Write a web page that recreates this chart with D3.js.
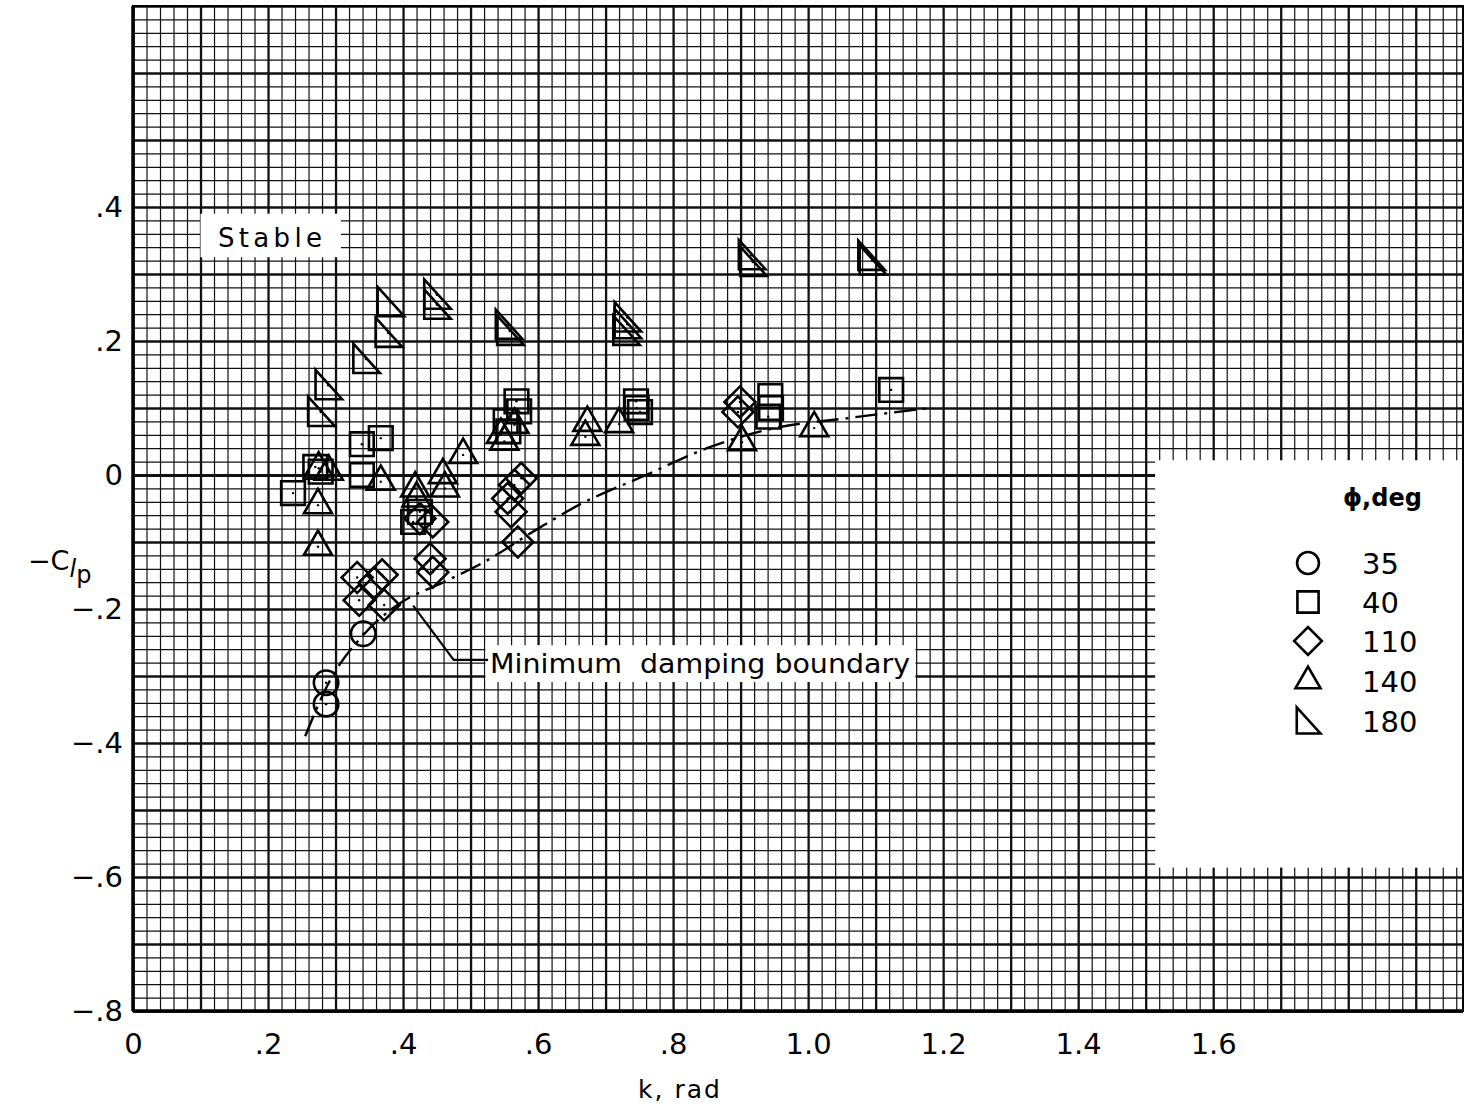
<!DOCTYPE html>
<html lang="en">
<head>
<meta charset="UTF-8" />
<title>Roll damping against reduced frequency</title>
<script src="https://d3js.org/d3.v7.min.js"></script>
<style>
  body { margin: 0; background: #fff; }
  svg text { font-family: "DejaVu Sans", sans-serif; fill: #000; white-space: pre; }
  .grid path, .ticks path { display: none; }
  .grid line { stroke: #111; }
  .mark { fill: none; stroke: #000; stroke-width: 2.6; }
</style>
</head>
<body>
<svg width="1466" height="1113"></svg>
<script>
// data: [k, -Clp]
const phi35 = [[0.341, -0.237], [0.286, -0.31], [0.286, -0.342]];
const phi40 = [[0.237, -0.027], [0.27, 0.012], [0.278, 0.005], [0.339, 0.046], [0.367, 0.055],
  [0.339, 0.0], [0.415, -0.07], [0.425, -0.055], [0.552, 0.08], [0.568, 0.11], [0.572, 0.095],
  [0.556, 0.065], [0.746, 0.10], [0.751, 0.094], [0.745, 0.11], [0.944, 0.118], [0.941, 0.087],
  [0.945, 0.10], [1.123, 0.127]];
const phi110 = [[0.899, 0.109], [0.896, 0.094], [0.575, -0.005], [0.565, -0.015], [0.555, -0.035],
  [0.56, -0.055], [0.57, -0.10], [0.444, -0.07], [0.425, -0.065], [0.44, -0.125], [0.444, -0.145],
  [0.332, -0.153], [0.369, -0.149], [0.357, -0.161], [0.335, -0.187], [0.372, -0.194]];
const phi140 = [[1.009, 0.07], [0.673, 0.078], [0.67, 0.057], [0.72, 0.076], [0.902, 0.049],
  [0.545, 0.06], [0.55, 0.05], [0.565, 0.075], [0.489, 0.03], [0.459, 0.0], [0.462, -0.02],
  [0.418, -0.02], [0.42, -0.035], [0.274, -0.045], [0.274, -0.107], [0.367, -0.01],
  [0.275, 0.01], [0.29, 0.005]];
const phi180 = [[0.381, 0.258], [0.378, 0.212], [0.345, 0.173], [0.289, 0.134], [0.278, 0.094],
  [0.45, 0.269], [0.45, 0.254], [0.556, 0.224], [0.558, 0.215], [0.732, 0.235], [0.732, 0.225],
  [0.73, 0.215], [0.916, 0.328], [0.918, 0.318], [1.093, 0.327], [1.095, 0.32]];

const boundary = [[0.255, -0.39], [0.29, -0.31], [0.34, -0.24], [0.39, -0.195], [0.46, -0.16],
  [0.52, -0.13], [0.60, -0.08], [0.66, -0.045], [0.76, 0.0], [0.85, 0.04], [0.95, 0.07],
  [1.06, 0.085], [1.18, 0.10]];
const leader = [[0.415, -0.195], [0.475, -0.276], [0.526, -0.276]];

const xTicks = [0, 0.2, 0.4, 0.6, 0.8, 1.0, 1.2, 1.4, 1.6];
const xTickLabels = ["0", ".2", ".4", ".6", ".8", "1.0", "1.2", "1.4", "1.6"];
const yTicks = [0.4, 0.2, 0, -0.2, -0.4, -0.6, -0.8];
const yTickLabels = [".4", ".2", "0", "−.2", "−.4", "−.6", "−.8"];
const legendLabels = ["35", "40", "110", "140", "180"];

const svg = d3.select("svg");
const x = d3.scaleLinear().domain([0, 1.97]).range([133, 1463]);
const y = d3.scaleLinear().domain([-0.8, 0.7]).range([1011, 6]);
const H = y(-0.8) - y(0.7), W = x(1.97) - x(0);

svg.append("rect").attr("width", 1466).attr("height", 1113).attr("fill", "#fff");

// graph paper
const minorX = d3.range(0, 99).map(i => +(i * 0.02).toFixed(2));
const minorY = d3.range(-40, 36).map(i => +(i * 0.02).toFixed(2));
const gx = svg.append("g").attr("class", "grid").attr("transform", `translate(0,${y(-0.8)})`)
  .call(d3.axisBottom(x).tickValues(minorX).tickSize(-H).tickFormat(""));
gx.selectAll("line").attr("stroke-width", (d, i) => i % 5 === 0 ? 2.3 : 1.2);
const gy = svg.append("g").attr("class", "grid").attr("transform", `translate(${x(0)},0)`)
  .call(d3.axisLeft(y).tickValues(minorY).tickSize(-W).tickFormat(""));
gy.selectAll("line").attr("stroke-width", (d, i) => i % 5 === 0 ? 2.3 : 1.2);
gy.selectAll("line").filter(d => d === 0).attr("stroke-width", 3).attr("stroke", "#000");

// white label patches
const patches = [[0.1, 0.39, 0.308, 0.325], [0.522, -0.254, 1.159, -0.309], [1.514, 0.022, 1.97, -0.586]];
svg.selectAll(".patch").data(patches).join("rect")
  .attr("x", d => x(d[0])).attr("y", d => y(d[1]))
  .attr("width", d => x(d[2]) - x(d[0])).attr("height", d => y(d[3]) - y(d[1]))
  .attr("fill", "#fff");

// frame
svg.append("rect").attr("x", x(0)).attr("y", y(0.7)).attr("width", W).attr("height", H)
  .attr("fill", "none").attr("stroke", "#000").attr("stroke-width", 2);
svg.append("line").attr("x1", x(0)).attr("x2", x(0)).attr("y1", y(0.7)).attr("y2", y(-0.8))
  .attr("stroke", "#000").attr("stroke-width", 3.5);
svg.append("line").attr("x1", x(0)).attr("x2", x(1.97)).attr("y1", y(-0.8)).attr("y2", y(-0.8))
  .attr("stroke", "#000").attr("stroke-width", 3.5);

// minimum damping boundary
svg.append("path").datum(boundary)
  .attr("d", d3.line().x(d => x(d[0])).y(d => y(d[1])).curve(d3.curveMonotoneX))
  .attr("fill", "none").attr("stroke", "#000").attr("stroke-width", 2.4)
  .attr("stroke-dasharray", "22,7,3,7");
svg.append("path").datum(leader)
  .attr("d", d3.line().x(d => x(d[0])).y(d => y(d[1])))
  .attr("fill", "none").attr("stroke", "#000").attr("stroke-width", 2.2);

// symbols
const rightTri = {
  draw(ctx, size) {
    const s = Math.sqrt(size);
    ctx.moveTo(-s * 0.45, -s * 0.55);
    ctx.lineTo(-s * 0.45, s * 0.5);
    ctx.lineTo(s * 0.5, s * 0.5);
    ctx.closePath();
  }
};
const series = [
  { data: phi35, type: d3.symbolCircle, size: 470, rot: 0 },
  { data: phi40, type: d3.symbolSquare, size: 560, rot: 0 },
  { data: phi110, type: d3.symbolSquare, size: 480, rot: 45 },
  { data: phi140, type: d3.symbolTriangle, size: 340, rot: 0 },
  { data: phi180, type: rightTri, size: 780, rot: 0 }
];
series.forEach(s => {
  const sym = d3.symbol().type(s.type).size(s.size);
  const g = svg.append("g");
  g.selectAll("path").data(s.data).join("path")
    .attr("class", "mark")
    .attr("d", sym)
    .attr("transform", d => `translate(${x(d[0])},${y(d[1])}) rotate(${s.rot})`);
  // small centre dots
  g.selectAll("circle").data(s.data).join("circle")
    .attr("cx", d => x(d[0])).attr("cy", d => y(d[1])).attr("r", 1.2).attr("fill", "#000");
});

// tick labels
const ax = svg.append("g").attr("class", "ticks").attr("transform", `translate(0,${y(-0.8)})`)
  .call(d3.axisBottom(x).tickValues(xTicks).tickSize(0).tickPadding(22)
    .tickFormat((d, i) => xTickLabels[i]));
ax.selectAll("text").attr("font-size", 29).attr("font-family", "DejaVu Sans");
const ay = svg.append("g").attr("class", "ticks").attr("transform", `translate(${x(0)},0)`)
  .call(d3.axisLeft(y).tickValues(yTicks).tickSize(0).tickPadding(10)
    .tickFormat((d, i) => yTickLabels[i]));
ay.selectAll("text").attr("font-size", 29).attr("font-family", "DejaVu Sans");

svg.append("text").attr("x", 680).attr("y", 1098).attr("text-anchor", "middle")
  .attr("font-size", 25).attr("letter-spacing", 2).text("k, rad");

const yl = svg.append("text").attr("x", 28).attr("y", 570).attr("font-size", 27);
yl.append("tspan").text("−C");
yl.append("tspan").attr("dy", 7).attr("font-size", 24).attr("font-style", "italic").text("l");
yl.append("tspan").attr("dy", 6).attr("font-size", 24).text("p");

svg.append("text").attr("x", 218).attr("y", 247).attr("font-size", 26)
  .attr("textLength", 104).attr("lengthAdjust", "spacing").text("Stable");
svg.append("text").attr("x", 490).attr("y", 673).attr("font-size", 26)
  .attr("textLength", 420).attr("lengthAdjust", "spacingAndGlyphs").text("Minimum  damping boundary");

// legend
svg.append("text").attr("x", 1343).attr("y", 506).attr("font-size", 24).attr("font-weight", "bold")
  .text("ϕ,deg");
const legRows = [563, 602, 641, 681, 721];
series.forEach((s, i) => {
  const sym = d3.symbol().type(s.type).size(s.size * 0.8);
  svg.append("path").attr("class", "mark")
    .attr("d", sym)
    .attr("transform", `translate(1308,${legRows[i]}) rotate(${s.rot})`);
  svg.append("text").attr("x", 1362).attr("y", legRows[i] + 11).attr("font-size", 29)
    .text(legendLabels[i]);
});
</script>
</body>
</html>
